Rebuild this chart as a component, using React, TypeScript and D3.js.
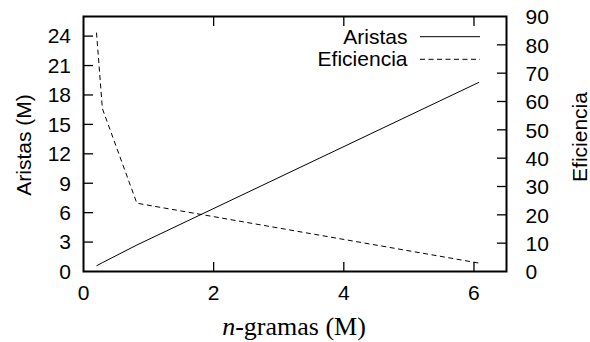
import React from "react";
import * as d3 from "d3";

const ngramas = [0.2, 0.29, 0.82, 6.08];
const aristas = [0.58, 0.9, 2.7, 19.3];
const eficiencia = [84.3, 57.5, 24.1, 2.96];
const xTicks = [0, 2, 4, 6];
const yLeftTicks = [0, 3, 6, 9, 12, 15, 18, 21, 24];
const yRightTicks = [0, 10, 20, 30, 40, 50, 60, 70, 80, 90];

const W = 590, H = 342;
const L = 83.5, R = 506.5, T = 16.5, B = 271.5;
const SANS = "'Liberation Sans', Arial, sans-serif";

export default function App() {
  const x = d3.scaleLinear().domain([0, 6.5]).range([L, R]);
  const yL = d3.scaleLinear().domain([0, 26]).range([B, T]);
  const yR = d3.scaleLinear().domain([0, 90]).range([B, T]);
  const idx = ngramas.map((_, i) => i);
  const lineA = d3.line<number>().x(i => x(ngramas[i])).y(i => yL(aristas[i]));
  const lineE = d3.line<number>().x(i => x(ngramas[i])).y(i => yR(eficiencia[i]));
  const tk = 9.5;
  return (
    <svg width={W} height={H} style={{ position: "absolute", left: 0, top: 0, background: "#fff" }}>
      <g stroke="#000" strokeWidth={1.3}>
        {xTicks.filter(t => t > 0).map(t => (
          <g key={"x" + t}>
            <line x1={x(t)} x2={x(t)} y1={B} y2={B - tk} />
            <line x1={x(t)} x2={x(t)} y1={T} y2={T + tk} />
          </g>
        ))}
        {yLeftTicks.filter(t => t > 0).map(t => (
          <line key={"l" + t} x1={L} x2={L + tk} y1={yL(t)} y2={yL(t)} />
        ))}
        {yRightTicks.filter(t => t > 0 && t < 90).map(t => (
          <line key={"r" + t} x1={R} x2={R - tk} y1={yR(t)} y2={yR(t)} />
        ))}
      </g>
      <path d={lineA(idx) || ""} fill="none" stroke="#000" strokeWidth={1} />
      <path d={lineE(idx) || ""} fill="none" stroke="#000" strokeWidth={1} strokeDasharray="5,3.5" />
      <rect x={L} y={T} width={R - L} height={B - T} fill="none" stroke="#000" strokeWidth={2} />
      <g fontFamily={SANS} fontSize={21} fill="#000">
        {xTicks.map(t => (
          <text key={"xt" + t} x={x(t)} y={300} textAnchor="middle">{t}</text>
        ))}
        {yLeftTicks.map(t => (
          <text key={"lt" + t} x={71} y={yL(t)} dy="0.35em" textAnchor="end">{t}</text>
        ))}
        {yRightTicks.map(t => (
          <text key={"rt" + t} x={525.5} y={yR(t)} dy="0.38em" textAnchor="start">{t}</text>
        ))}
        <text transform={`translate(31,145) rotate(-90)`} textAnchor="middle">Aristas (M)</text>
        <text transform={`translate(587,137) rotate(-90)`} textAnchor="middle">Eficiencia</text>
        <text x={407.5} y={44} textAnchor="end">Aristas</text>
        <text x={407.5} y={66} textAnchor="end">Eficiencia</text>
      </g>
      <line x1={420} x2={480} y1={36.7} y2={36.7} stroke="#000" strokeWidth={1} />
      <line x1={420} x2={480} y1={59.3} y2={59.3} stroke="#000" strokeWidth={1} strokeDasharray="5,3.5" />
      <text x={294} y={335} textAnchor="middle" fontFamily="'Liberation Serif', 'DejaVu Serif', serif" fontSize={26} fill="#000">
        <tspan fontStyle="italic">n</tspan>-gramas (M)
      </text>
    </svg>
  );
}
